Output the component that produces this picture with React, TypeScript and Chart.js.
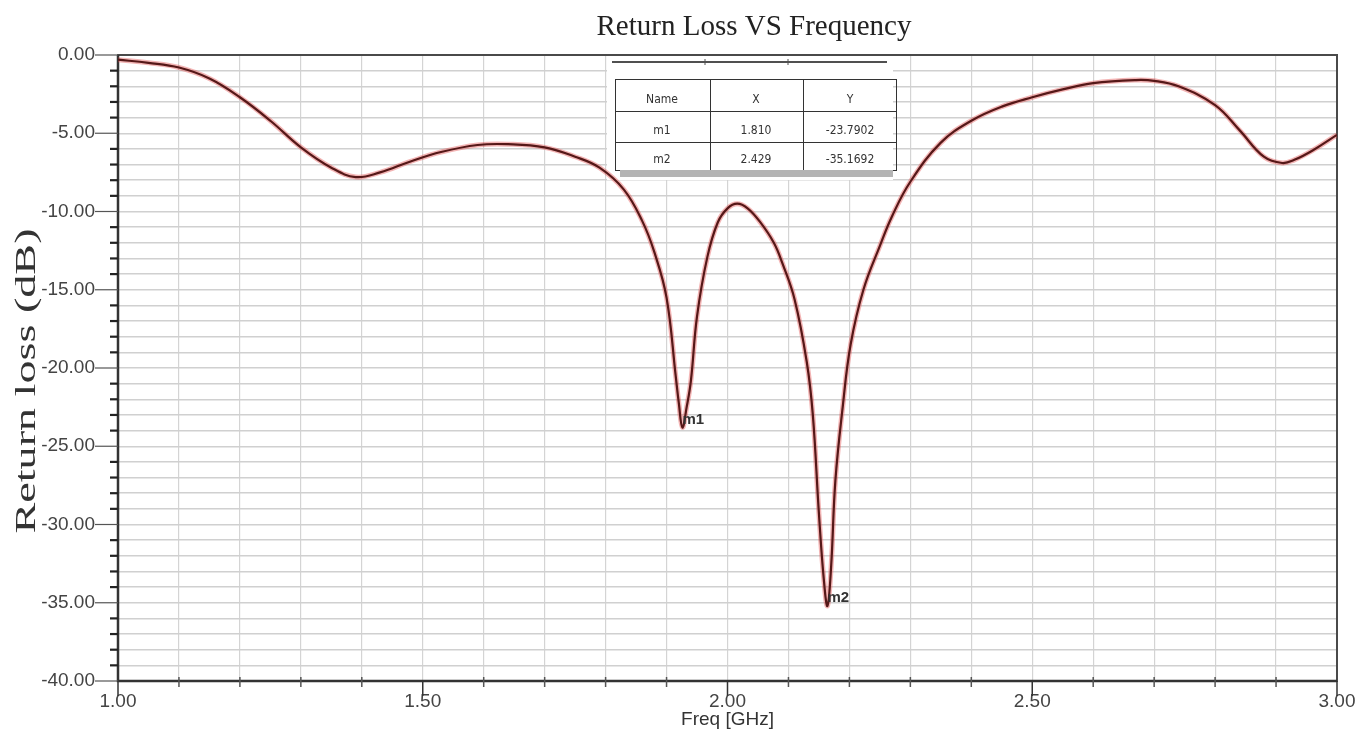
import React, { useEffect, useRef } from 'react';
import { Chart, registerables } from 'chart.js';

Chart.register(...registerables);

// ---- data ----
const freqGHz = [
  1.00, 1.05, 1.10, 1.15, 1.20, 1.25, 1.30, 1.35, 1.39, 1.43,
  1.48, 1.53, 1.59, 1.64, 1.70, 1.75, 1.79, 1.83, 1.86, 1.88,
  1.90, 1.915, 1.92, 1.926, 1.933, 1.94, 1.95, 1.967, 1.984, 2.00,
  2.016, 2.033, 2.054, 2.076, 2.09, 2.11, 2.13, 2.14, 2.15, 2.158,
  2.164, 2.17, 2.177, 2.189, 2.202, 2.223, 2.25, 2.27, 2.30, 2.35,
  2.40, 2.45, 2.50, 2.55, 2.60, 2.67, 2.70, 2.74, 2.80, 2.84,
  2.88, 2.91, 2.93, 2.96, 3.00,
];
const returnLossDb = [
  -0.3, -0.5, -0.8, -1.5, -2.7, -4.2, -5.9, -7.2, -7.8, -7.5,
  -6.8, -6.2, -5.75, -5.7, -5.9, -6.5, -7.2, -8.6, -10.6, -12.6,
  -15.5, -20.5, -22.2, -23.8, -22.5, -20.8, -16.7, -12.9, -10.7, -9.8,
  -9.5, -9.8, -10.7, -12.0, -13.3, -15.6, -19.6, -23.0, -29.3, -33.5,
  -35.2, -32.7, -27.2, -22.5, -18.5, -15.0, -12.2, -10.3, -8.1, -5.6,
  -4.2, -3.3, -2.7, -2.2, -1.8, -1.6, -1.65, -2.0, -3.2, -4.8,
  -6.5, -6.9, -6.7, -6.1, -5.1,
];

const xMajorTicks = [1.0, 1.5, 2.0, 2.5, 3.0];
const xTickLabels = ['1.00', '1.50', '2.00', '2.50', '3.00'];
const yMajorTicks = [0, -5, -10, -15, -20, -25, -30, -35, -40];
const yTickLabels = ['0.00', '-5.00', '-10.00', '-15.00', '-20.00', '-25.00', '-30.00', '-35.00', '-40.00'];

const markerNames = ['m1', 'm2'];
const markerFreq = [1.926, 2.164];
const markerDb = [-23.8, -35.2];

const tableHeader = ['Name', 'X', 'Y'];
const tableNames = ['m1', 'm2'];
const tableX = ['1.810', '2.429'];
const tableY = ['-23.7902', '-35.1692'];

const chartTitle = 'Return Loss VS Frequency';
const yAxisTitle = 'Return loss (dB)';
const xAxisTitle = 'Freq [GHz]';

const near = (a: number, b: number) => Math.abs(a - b) < 1e-6;

const decor = {
  id: 'decor',
  beforeDatasetsDraw(chart: any) {
    const { ctx, chartArea: a, scales } = chart;
    const x = scales.x;
    const y = scales.y;
    ctx.save();

    // marker table background & table
    ctx.fillStyle = '#ffffff';
    ctx.fillRect(607, 56, 286, 124);
    ctx.strokeStyle = '#505050';
    ctx.lineWidth = 2;
    ctx.beginPath();
    ctx.moveTo(612, 62);
    ctx.lineTo(887, 62);
    ctx.stroke();
    ctx.lineWidth = 1;
    ctx.beginPath();
    ctx.moveTo(705, 59); ctx.lineTo(705, 65);
    ctx.moveTo(788, 59); ctx.lineTo(788, 65);
    ctx.stroke();

    ctx.strokeStyle = '#333333';
    ctx.lineWidth = 1;
    ctx.strokeRect(615.5, 79.5, 281, 91);
    ctx.beginPath();
    ctx.moveTo(615, 111.5); ctx.lineTo(896, 111.5);
    ctx.moveTo(615, 142.5); ctx.lineTo(896, 142.5);
    ctx.moveTo(710.5, 79); ctx.lineTo(710.5, 170);
    ctx.moveTo(803.5, 79); ctx.lineTo(803.5, 170);
    ctx.stroke();
    ctx.fillStyle = '#b4b4b4';
    ctx.fillRect(620, 170, 273, 7);

    ctx.fillStyle = '#333333';
    ctx.font = '12px "Liberation Sans Narrow", "DejaVu Sans Condensed", sans-serif';
    ctx.textAlign = 'center';
    ctx.textBaseline = 'middle';
    const colC = [662, 756, 850];
    const rowC = [100, 131, 160];
    tableHeader.forEach((t, i) => ctx.fillText(t, colC[i], rowC[0]));
    tableNames.forEach((n, r) => {
      ctx.fillText(n, colC[0], rowC[r + 1]);
      ctx.fillText(tableX[r], colC[1], rowC[r + 1]);
      ctx.fillText(tableY[r], colC[2], rowC[r + 1]);
    });

    // plot border
    ctx.strokeStyle = '#4a4a4a';
    ctx.lineWidth = 2;
    ctx.strokeRect(a.left, a.top, a.right - a.left, a.bottom - a.top);
    ctx.strokeStyle = '#333333';
    ctx.lineWidth = 2.5;
    ctx.beginPath();
    ctx.moveTo(a.left, a.top); ctx.lineTo(a.left, a.bottom);
    ctx.lineTo(a.right, a.bottom);
    ctx.stroke();

    // y tick marks
    y.ticks.forEach((t: any) => {
      const py = y.getPixelForValue(t.value);
      const major = yMajorTicks.some((m) => near(m, t.value));
      ctx.beginPath();
      if (major) {
        ctx.strokeStyle = '#555555';
        ctx.lineWidth = 1.2;
        ctx.moveTo(a.left - 23, py); ctx.lineTo(a.left, py);
      } else {
        ctx.strokeStyle = '#222222';
        ctx.lineWidth = 2.2;
        ctx.moveTo(a.left - 8, py); ctx.lineTo(a.left, py);
      }
      ctx.stroke();
    });
    // x tick marks
    x.ticks.forEach((t: any) => {
      const px = x.getPixelForValue(t.value);
      const major = xMajorTicks.some((m) => near(m, t.value));
      ctx.beginPath();
      if (major) {
        ctx.strokeStyle = '#333333';
        ctx.lineWidth = 1.5;
        ctx.moveTo(px, a.bottom); ctx.lineTo(px, a.bottom + 15);
      } else {
        ctx.strokeStyle = '#555555';
        ctx.lineWidth = 1.5;
        ctx.moveTo(px, a.bottom - 4); ctx.lineTo(px, a.bottom + 6);
      }
      ctx.stroke();
    });
    ctx.restore();
  },
  afterDatasetsDraw(chart: any) {
    const { ctx, chartArea: a, scales } = chart;
    const x = scales.x;
    const y = scales.y;
    ctx.save();
    // marker labels
    ctx.fillStyle = '#333333';
    ctx.font = 'bold 15px "Liberation Sans", Arial, sans-serif';
    ctx.textAlign = 'left';
    ctx.textBaseline = 'middle';
    markerNames.forEach((n, i) => {
      const px = x.getPixelForValue(markerFreq[i]);
      const py = y.getPixelForValue(markerDb[i]);
      ctx.fillText(n, px, py - 8);
    });

    // title
    ctx.fillStyle = '#222222';
    ctx.font = '29px "Liberation Serif", "Times New Roman", serif';
    ctx.textAlign = 'center';
    ctx.textBaseline = 'alphabetic';
    ctx.fillText(chartTitle, 754, 35);

    // y axis title (stretched like the reference)
    ctx.save();
    ctx.font = '30px "Liberation Serif", "Times New Roman", serif';
    const w = ctx.measureText(yAxisTitle).width;
    ctx.translate(35, 381);
    ctx.rotate(-Math.PI / 2);
    ctx.scale(305 / w, 1);
    ctx.fillStyle = '#333333';
    ctx.textAlign = 'center';
    ctx.textBaseline = 'alphabetic';
    ctx.fillText(yAxisTitle, 0, 0);
    ctx.restore();

    // x axis title
    ctx.fillStyle = '#333333';
    ctx.font = '19px "Liberation Sans", Arial, sans-serif';
    ctx.textAlign = 'center';
    ctx.textBaseline = 'middle';
    ctx.fillText(xAxisTitle, (a.left + a.right) / 2, 720);
    ctx.restore();
  },
};

export default function App() {
  const ref = useRef<HTMLCanvasElement>(null);
  useEffect(() => {
    const points = freqGHz.map((f, i) => ({ x: f, y: returnLossDb[i] }));
    const chart = new Chart(ref.current as HTMLCanvasElement, {
      type: 'line',
      data: {
        datasets: [
          {
            data: points,
            borderColor: '#561818',
            borderWidth: 2.2,
            pointRadius: 0,
            tension: 0.4,
            fill: false,
          },
          {
            data: points,
            borderColor: 'rgba(225, 70, 70, 0.4)',
            borderWidth: 5,
            pointRadius: 0,
            tension: 0.4,
            fill: false,
          },
        ],
      },
      options: {
        animation: false,
        responsive: false,
        events: [],
        layout: { padding: { top: 55, right: 31, bottom: 0, left: 0 } },
        plugins: {
          legend: { display: false },
          tooltip: { enabled: false },
          title: { display: false },
        },
        scales: {
          x: {
            type: 'linear',
            min: 1,
            max: 3,
            afterFit: (s: any) => { s.height = 55; },
            border: { display: false },
            grid: { color: '#d4d4d4', lineWidth: 1.2, drawTicks: false },
            ticks: {
              stepSize: 0.1,
              autoSkip: false,
              maxRotation: 0,
              padding: 9,
              color: '#444444',
              font: { family: '"Liberation Sans", Arial, sans-serif', size: 19 },
              callback: (v: any) => {
                const i = xMajorTicks.findIndex((m) => near(m, Number(v)));
                return i >= 0 ? xTickLabels[i] : '';
              },
            },
          },
          y: {
            type: 'linear',
            min: -40,
            max: 0,
            afterFit: (s: any) => { s.width = 118; },
            border: { display: false },
            grid: { color: '#d0d0d0', lineWidth: 1.5, drawTicks: false },
            ticks: {
              stepSize: 1,
              autoSkip: false,
              padding: 23,
              color: '#444444',
              font: { family: '"Liberation Sans", Arial, sans-serif', size: 19 },
              callback: (v: any) => {
                const i = yMajorTicks.findIndex((m) => near(m, Number(v)));
                return i >= 0 ? yTickLabels[i] : '';
              },
            },
          },
        },
      },
      plugins: [decor],
    } as any);
    return () => chart.destroy();
  }, []);
  return (
    <div style={{ width: 1368, height: 736, position: 'relative', background: '#ffffff' }}>
      <style>{'body{margin:0;}'}</style>
      <canvas ref={ref} width={1368} height={736} style={{ display: 'block' }} />
    </div>
  );
}
